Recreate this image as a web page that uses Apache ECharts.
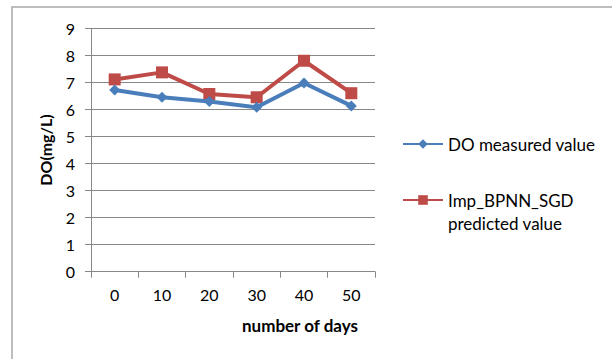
<!DOCTYPE html>
<html>
<head>
<meta charset="utf-8">
<script src="https://cdn.jsdelivr.net/npm/echarts@6/dist/echarts.min.js"></script>
<style>
  html, body { margin: 0; padding: 0; background: #fff; }
  #chart { width: 612px; height: 359px; }
</style>
</head>
<body>
<div id="chart"></div>
<script>
// Dissolved oxygen over time: measured vs. model prediction
const days = ['0', '10', '20', '30', '40', '50'];
const measured = [6.72, 6.45, 6.29, 6.08, 6.98, 6.13];
const predicted = [7.11, 7.37, 6.57, 6.45, 7.80, 6.60];
const yTicks = [0, 1, 2, 3, 4, 5, 6, 7, 8, 9];

const FONT = 'Lato, "Open Sans", sans-serif';
const AXIS_GREY = '#878787';
const BLUE = '#4a7ebb';
const RED = '#be4b48';

const chart = echarts.init(document.getElementById('chart'), null, { renderer: 'svg' });

chart.setOption({
  backgroundColor: '#fff',
  animation: false,
  textStyle: { fontFamily: FONT },
  graphic: [{
    type: 'rect',
    shape: { x: 12, y: 7, width: 700, height: 400 },
    style: { fill: 'none', stroke: '#a8a8a8', lineWidth: 1.5 },
    silent: true
  }],
  grid: { left: 91, right: 237, top: 28.3, bottom: 87.3, containLabel: false },
  xAxis: {
    type: 'category',
    data: days,
    boundaryGap: true,
    name: 'number of days',
    nameLocation: 'middle',
    nameGap: 45,
    nameTextStyle: { fontFamily: FONT, fontSize: 17, fontWeight: 'bold', color: '#000', padding: [0, 0, 0, 134] },
    axisLine: { show: true, lineStyle: { color: AXIS_GREY, width: 1 } },
    axisTick: { show: true, length: 6, alignWithLabel: false, lineStyle: { color: AXIS_GREY } },
    axisLabel: { fontFamily: FONT, fontSize: 16, color: '#000', margin: 15 },
    splitLine: { show: false }
  },
  yAxis: {
    type: 'value',
    min: yTicks[0],
    max: yTicks[yTicks.length - 1],
    interval: 1,
    name: 'DO(mg/L)',
    nameLocation: 'middle',
    nameGap: 38,
    nameRotate: 90,
    nameTextStyle: { fontFamily: FONT, fontSize: 16, fontWeight: 'bold', color: '#000' },
    axisLine: { show: true, lineStyle: { color: AXIS_GREY, width: 1 } },
    axisTick: { show: true, length: 6, lineStyle: { color: AXIS_GREY } },
    axisLabel: { fontFamily: FONT, fontSize: 16, color: '#000', margin: 16 },
    splitLine: { show: true, lineStyle: { color: AXIS_GREY, width: 1 } }
  },
  legend: [{
    data: ['DO measured value'],
    orient: 'vertical',
    left: 397,
    top: 129,
    itemWidth: 40,
    itemHeight: 12,
    itemGap: 4,
    textStyle: { fontFamily: FONT, fontSize: 17, color: '#000', lineHeight: 20 }
  }, {
    data: ['Imp_BPNN_SGD\npredicted value'],
    orient: 'vertical',
    left: 397,
    top: 160.5,
    itemWidth: 40,
    itemHeight: 12,
    itemGap: 4,
    // a blank leading line keeps the icon level with the first text line
    formatter: name => '\n' + name,
    textStyle: { fontFamily: FONT, fontSize: 17, color: '#000', lineHeight: 23 }
  }],
  series: [{
    name: 'DO measured value',
    type: 'line',
    data: measured,
    symbol: 'diamond',
    symbolSize: 11,
    lineStyle: { color: BLUE, width: 4 },
    itemStyle: { color: BLUE },
    z: 3
  }, {
    name: 'Imp_BPNN_SGD\npredicted value',
    type: 'line',
    data: predicted,
    symbol: 'rect',
    symbolSize: 12,
    lineStyle: { color: RED, width: 4 },
    itemStyle: { color: RED },
    z: 2
  }]
});
</script>
</body>
</html>
